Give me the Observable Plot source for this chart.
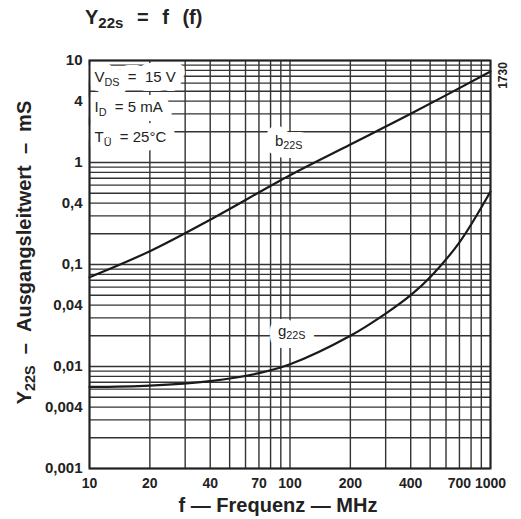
<!DOCTYPE html>
<html>
<head>
<meta charset="utf-8">
<script src="https://cdn.jsdelivr.net/npm/d3@7"></script>
<script src="https://cdn.jsdelivr.net/npm/@observablehq/plot@0.6"></script>
<style>
  body { margin: 0; background: #fff; font-family: "Liberation Sans", Arial, sans-serif; }
  #title { height: 40px; position: relative; }
  #title span { position: absolute; left: 85px; top: 6px; font-size: 20px; font-weight: bold; color: #222; white-space: pre; word-spacing: 8px; }
  #title sub { font-size: 15px; vertical-align: -4px; }
  #chart svg { display: block; }
</style>
</head>
<body>
<div id="title"><span>Y<sub>22s</sub> = f (f)</span></div>
<div id="chart"></div>
<script>
// Output conductance Y22s of the FET versus frequency (log-log)
const bFreq = [10, 20, 40, 100, 200, 400, 1000];                 // MHz
const b22S  = [0.075, 0.135, 0.275, 0.75, 1.5, 3.0, 7.8];         // mS

const gFreq = [10, 20, 40, 70, 100, 200, 300, 400, 500, 700, 1000];                       // MHz
const g22S  = [0.0063, 0.0065, 0.0072, 0.0086, 0.0105, 0.02, 0.033, 0.05, 0.075, 0.165, 0.52]; // mS

const xTicks = [10, 20, 40, 70, 100, 200, 400, 700, 1000];
const yTicks = [0.001, 0.004, 0.01, 0.04, 0.1, 0.4, 1, 4, 10];

const conditions = ["V_{DS}\u00A0 = \u00A015 V", "I_{D}\u00A0 = 5 mA", "T_{Ü}\u00A0 = 25°C"];
const seriesNames = ["b_{22S}", "g_{22S}"];
const xLabel = "f \u2014 Frequenz \u2014 MHz";
const yLabel = "Y_{22S}\u00A0 \u2013 \u00A0Ausgangsleitwert\u00A0 \u2013 \u00A0mS";
const figureNo = "1730";

// full logarithmic grid (1…9 in every decade)
const gridF = d3.scaleLog().domain([10, 1000]).ticks();
const gridV = d3.scaleLog().domain([0.001, 10]).ticks();

const bData = bFreq.map((f, i) => ({f, v: b22S[i]}));
const gData = gFreq.map((f, i) => ({f, v: g22S[i]}));

const ink = "#222";
const fmtV = d => String(d).replace(".", ",");

// a label drawn twice: a white knock-out underneath, the ink on top
function label(str, opts) {
  const base = {text: d => d, lineAnchor: "middle", ...opts};
  return [
    Plot.text([str], {...base, fill: "white", stroke: "white", strokeWidth: 18, strokeLinejoin: "round"}),
    Plot.text([str], {...base, fill: ink})
  ];
}

const chart = Plot.plot({
  width: 521,
  height: 479,
  marginTop: 20,
  marginBottom: 51,
  marginLeft: 89,
  marginRight: 31,
  style: {fontFamily: "Liberation Sans, Arial, sans-serif", fontSize: "15px", color: ink, background: "white"},
  x: {type: "log", domain: [10, 1000], axis: null},
  y: {type: "log", domain: [0.001, 10], axis: null},
  marks: [
    Plot.ruleX(gridF, {stroke: "#333", strokeWidth: 1.4}),
    Plot.ruleY(gridV, {stroke: "#333", strokeWidth: 1.4}),
    ...conditions.flatMap((c, i) => label(c, {
      frameAnchor: "top-left", textAnchor: "start", dx: 5, dy: 17 + 30 * i, fontSize: 15
    })),
    ...label(seriesNames[0], {x: bFreq[3], y: b22S[3], textAnchor: "start", dx: -15, dy: -34, fontSize: 15}),
    ...label(seriesNames[1], {x: gFreq[4], y: g22S[4], textAnchor: "start", dx: -12, dy: -33, fontSize: 15}),
    Plot.line(bData, {x: "f", y: "v", stroke: "#1a1a1a", strokeWidth: 2.2, curve: "catmull-rom"}),
    Plot.line(gData, {x: "f", y: "v", stroke: "#1a1a1a", strokeWidth: 2.2, curve: "catmull-rom"}),
    Plot.frame({stroke: ink, strokeWidth: 2}),
    // tick labels
    Plot.text(xTicks, {x: d => d, text: d => String(d), frameAnchor: "bottom", lineAnchor: "middle", dy: 15, fontSize: 14, fill: ink, fontWeight: "bold"}),
    Plot.text(yTicks, {y: d => d, text: fmtV, frameAnchor: "left", textAnchor: "end", lineAnchor: "middle", dx: -7, fill: ink, fontWeight: "bold"}),
    // axis titles and figure number
    Plot.text([xLabel], {text: d => d, frameAnchor: "bottom", textAnchor: "middle", lineAnchor: "middle", dx: -12, dy: 37, fontSize: 20, fontWeight: "bold", fill: ink}),
    Plot.text([yLabel], {text: d => d, frameAnchor: "left", textAnchor: "middle", lineAnchor: "middle", rotate: -90, dx: -65, dy: -12, fontSize: 20, fontWeight: "bold", fill: ink}),
    Plot.text([figureNo], {text: d => d, frameAnchor: "top-right", textAnchor: "middle", lineAnchor: "middle", rotate: -90, dx: 13, dy: 15, fontSize: 12, fontWeight: "bold", fill: ink})
  ]
});

// turn "X_{sub}" markup into real subscript tspans
d3.select(chart).selectAll("text").each(function() {
  const s = this.textContent;
  if (!s.includes("_{")) return;
  const parts = s.split(/_\{([^}]*)\}/);
  this.textContent = "";
  let lowered = false;
  parts.forEach((p, i) => {
    if (p === "") return;
    const t = d3.select(this).append("tspan").text(p);
    if (i % 2 === 1) {
      t.attr("font-size", "72%").attr("dy", "0.3em");
      lowered = true;
    } else if (lowered) {
      t.attr("dy", "-0.216em");
      lowered = false;
    }
  });
});

document.getElementById("chart").appendChild(chart);
</script>
</body>
</html>
